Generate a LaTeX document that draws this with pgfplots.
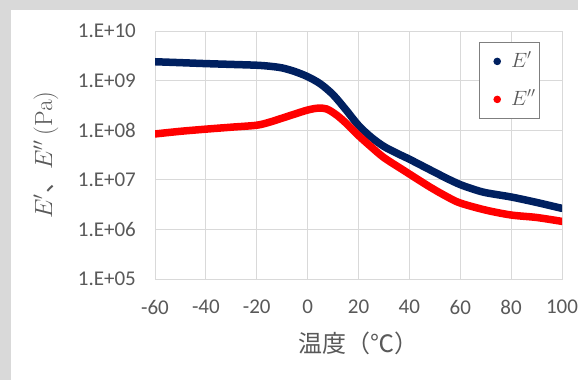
\documentclass[border=0pt]{standalone}
\usepackage[no-math]{fontspec}
\setmainfont{Carlito}
\newfontfamily\cjk{Noto Sans CJK JP}
\usepackage{pgfplots}
\pgfplotsset{compat=1.18}
\definecolor{navy}{HTML}{002060}
\definecolor{txt}{HTML}{595959}
\definecolor{grd}{HTML}{D9D9D9}
\definecolor{frm}{HTML}{D9D9D9}
\definecolor{lgb}{HTML}{7F7F7F}
\begin{document}
\begin{tikzpicture}[x=1bp,y=1bp]
\fill[frm] (0,0) rectangle (578,380);
\fill[white] (11,0) rectangle (578,370);
\begin{axis}[
  at={(155bp,101bp)}, anchor=south west,
  scale only axis, width=407bp, height=248bp,
  xmin=-60, xmax=100, ymode=log, ymin=1e5, ymax=1e10,
  xtick={-60,-40,-20,0,20,40,60,80,100},
  xticklabels={-60,-40,-20,0,20,40,60,80,100},
  ytick={1e5,1e6,1e7,1e8,1e9,1e10},
  yticklabels={1.E+05,1.E+06,1.E+07,1.E+08,1.E+09,1.E+10},
  grid=major, major grid style={grd, line width=0.8bp},
  axis line style={grd, line width=0.8bp},
  major tick length=0pt, tick style={draw=none},
  tick label style={font=\fontsize{21bp}{25bp}\selectfont, text=txt, inner sep=0pt},
  yticklabel style={anchor=east, xshift=-19bp},
  xticklabel style={anchor=north, yshift=-21bp},
  xlabel={\cjk 温度（℃）},
  every axis x label/.style={at={([yshift=-64bp]rel axis cs:0.5,0)}, anchor=center, font=\fontsize{24bp}{28bp}\selectfont, text=txt},
  ylabel={$E'$\cjk{、}$E''$ $(\mathrm{Pa})$},
  every axis y label/.style={at={([xshift=-109bp]rel axis cs:0,0.5)}, rotate=90, anchor=center, font=\fontsize{24bp}{28bp}\selectfont, text=txt},
  legend style={at={([xshift=-22bp,yshift=-11bp]rel axis cs:1,1)}, anchor=north east,
    draw=lgb, line width=0.8bp, fill=white, inner xsep=4bp, inner ysep=9bp,
    font=\fontsize{22bp}{26bp}\selectfont, text=txt, row sep=18bp, column sep=10bp,
    nodes={inner sep=0pt, text height=16bp, text depth=4bp}},
  legend cell align=left,
  legend image code/.code={\path[draw=none,fill=none] (0bp,0bp) -- (17.5bp,0bp); \path[draw=none,fill=#1] (14bp,0bp) circle (3.8bp);},
]
\addplot[navy, line width=7.5bp, line cap=round, line join=round, smooth] coordinates {
(-60,2.4e9) (-50,2.3e9) (-40,2.2e9) (-30,2.12e9) (-20,2.04e9) (-15,1.95e9)
(-10,1.8e9) (-5,1.52e9) (0,1.2e9) (5,8.6e8) (10,5.2e8) (15,2.6e8) (20,1.25e8)
(25,7.2e7) (30,4.7e7) (35,3.45e7) (40,2.6e7) (48,1.6e7) (55,1.05e7) (60,8.0e6)
(65,6.5e6) (70,5.5e6) (80,4.5e6) (90,3.5e6) (100,2.65e6)
};
\addlegendentry{$E'$}
\addplot[red, line width=7.5bp, line cap=round, line join=round, smooth] coordinates {
(-60,8.4e7) (-50,9.5e7) (-40,1.05e8) (-30,1.15e8) (-20,1.26e8) (-15,1.45e8)
(-10,1.75e8) (-5,2.12e8) (0,2.55e8) (4,2.78e8) (7.5,2.68e8) (11.5,2.0e8) (15,1.4e8)
(20,7.8e7) (25,4.6e7) (30,2.8e7) (37.5,1.58e7) (48,7.2e6) (55,4.5e6) (60,3.4e6)
(70,2.45e6) (80,1.95e6) (90,1.74e6) (100,1.45e6)
};
\addlegendentry{$E''$}
\end{axis}
\end{tikzpicture}
\end{document}
